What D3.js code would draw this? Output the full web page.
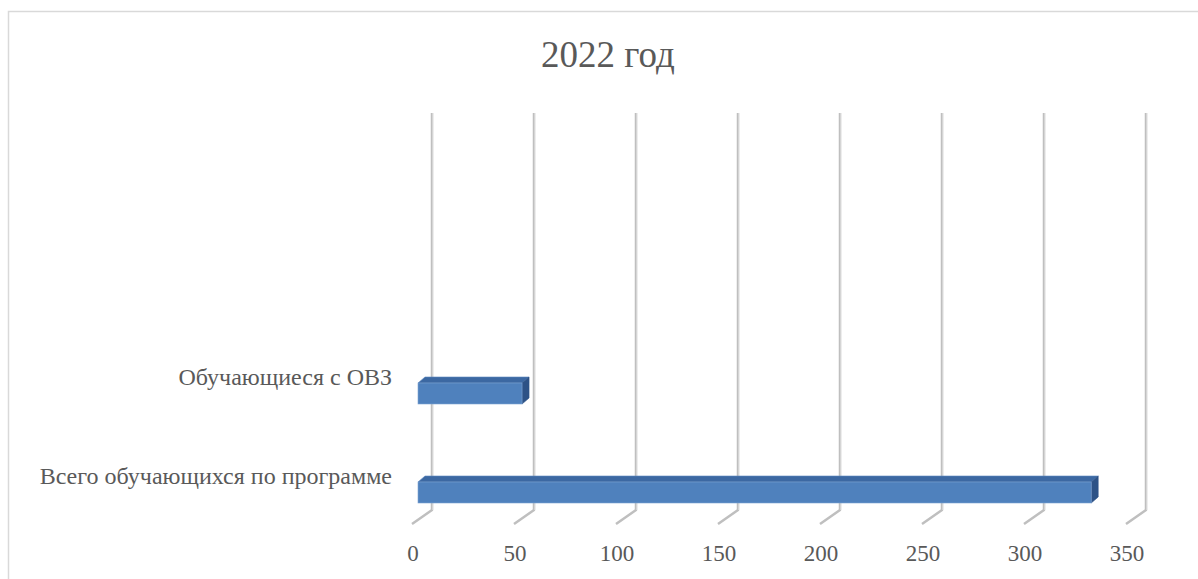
<!DOCTYPE html>
<html>
<head>
<meta charset="utf-8">
<script src="https://cdn.jsdelivr.net/npm/d3@7"></script>
<style>
  body { margin: 0; background: #fff; }
  svg { display: block; }
</style>
</head>
<body>
<div id="chart"></div>
<script>
// data
var categories = ['Обучающиеся с ОВЗ', 'Всего обучающихся по программе'];
var values = [51, 330];
var ticks = [0, 50, 100, 150, 200, 250, 300, 350];
var title = '2022 год';

var W = 1198, H = 579;
var FONT = "'Liberation Serif', 'Times New Roman', Times, serif";
var svg = d3.select('#chart').append('svg').attr('width', W).attr('height', H);

// chart area border (only top/left visible in the shot)
svg.append('rect').attr('x', 8.5).attr('y', 11.5).attr('width', 1250).attr('height', 700)
  .style('fill', 'none').style('stroke', '#d9d9d9').style('stroke-width', 1.5);

svg.append('text').attr('x', 608).attr('y', 67).attr('text-anchor', 'middle')
  .attr('font-family', FONT).attr('fill', '#595959')
  .style('font-size', '37px').text(title);

// front plane of the bars
var x = d3.scaleLinear().domain([0, 350]).range([418, 1132]);
var y = d3.scalePoint().domain(categories).range([393.5, 492.5]);

var depthX = 7, depthY = 6;   // bar depth
var backX = 14;               // offset of back wall
var gTop = 113, gBot = 510;

// gridlines on back wall + floor ticks
var grid = svg.append('g');
ticks.forEach(function(t) {
  var gx = x(t) + backX;
  grid.append('path')
    .attr('d', 'M' + gx + ',' + gTop + 'L' + gx + ',' + gBot + 'L' + (gx - 20) + ',' + (gBot + 14))
    .style('fill', 'none').style('stroke', '#bfbfbf').style('stroke-width', 2.5)
    .style('stroke-linejoin', 'round');
  grid.append('path')
    .attr('d', 'M' + (gx + 0.8) + ',' + gTop + 'L' + (gx + 0.8) + ',' + gBot)
    .style('fill', 'none').style('stroke', '#e6e6e6').style('stroke-width', 0.8);
});

// tick labels
svg.append('g').selectAll('text').data(ticks).enter().append('text')
  .attr('x', function(d) { return x(d) - 5; })
  .attr('y', 561)
  .attr('text-anchor', 'middle')
  .attr('font-family', FONT).attr('fill', '#595959')
  .style('font-size', '23px')
  .text(function(d) { return d; });

// category labels
svg.append('g').selectAll('text').data(categories).enter().append('text')
  .attr('x', 392)
  .attr('y', function(d) { return y(d) - 8.5; })
  .attr('text-anchor', 'end')
  .attr('font-family', FONT).attr('fill', '#595959')
  .style('font-size', '24px')
  .text(function(d) { return d; });

// 3d bars
var bh = 21;
var bars = svg.append('g').selectAll('g').data(categories).enter().append('g');

bars.each(function(c, i) {
  var g = d3.select(this);
  var x0 = x(0), x1 = x(values[i]);
  var y0 = y(c) - bh / 2, y1 = y(c) + bh / 2;
  // top face
  g.append('path')
    .attr('d', 'M' + x0 + ',' + y0 + 'L' + (x0 + depthX) + ',' + (y0 - depthY) +
      'L' + (x1 + depthX) + ',' + (y0 - depthY) + 'L' + x1 + ',' + y0 + 'Z')
    .style('fill', '#3c68a2').style('stroke', '#5a86c0').style('stroke-width', 0.6);
  // side face
  g.append('path')
    .attr('d', 'M' + x1 + ',' + y0 + 'L' + (x1 + depthX) + ',' + (y0 - depthY) +
      'L' + (x1 + depthX) + ',' + (y1 - depthY) + 'L' + x1 + ',' + y1 + 'Z')
    .style('fill', '#2d5286').style('stroke', '#2d5286').style('stroke-width', 0.6);
  // front face
  g.append('rect')
    .attr('x', x0).attr('y', y0).attr('width', x1 - x0).attr('height', bh)
    .style('fill', '#4f81bd').style('stroke', '#7ea3d2').style('stroke-width', 0.6);
});
</script>
</body>
</html>
